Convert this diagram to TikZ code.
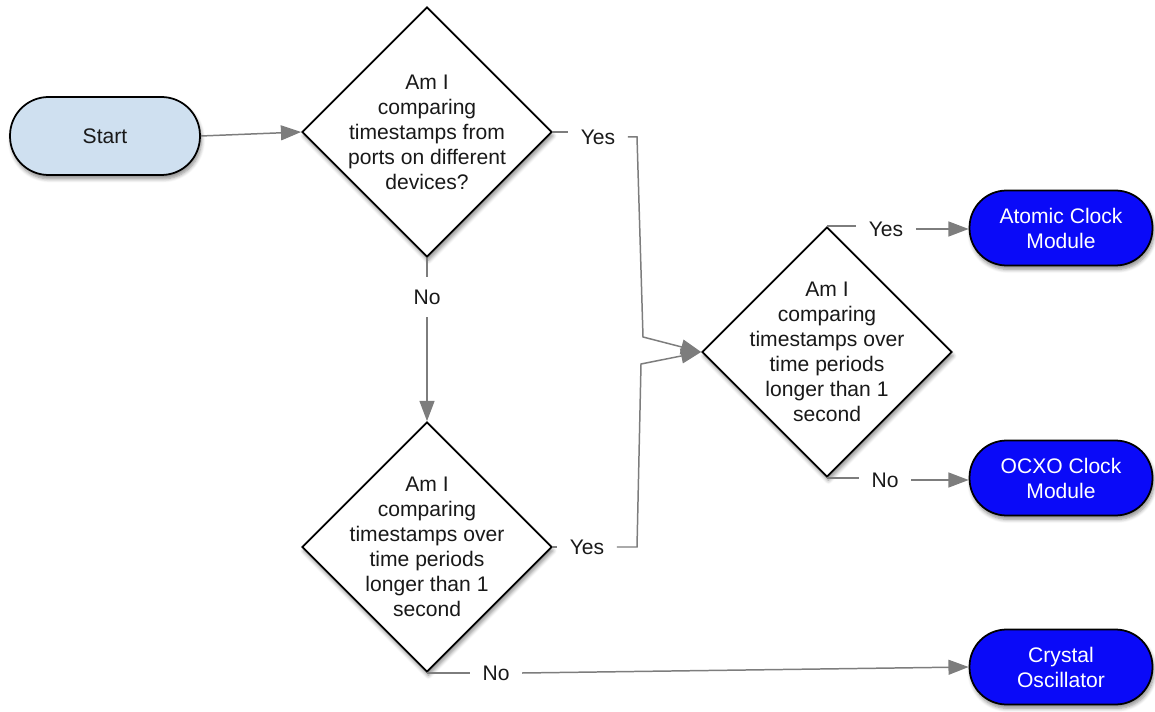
\documentclass[tikz,border=0pt]{standalone}
\usepackage{fontspec}
\setmainfont{Liberation Sans}
\usetikzlibrary{shapes.geometric,arrows.meta,shadows.blur}
\definecolor{startfill}{RGB}{207,224,240}
\definecolor{clockblue}{RGB}{10,10,248}
\definecolor{conncol}{RGB}{125,125,125}
\definecolor{txtcol}{RGB}{25,25,25}
\begin{document}
\begin{tikzpicture}[x=0.02cm,y=-0.02cm,
  font=\fontsize{12}{14.2}\selectfont, text=txtcol,
  softshadow/.style={blur shadow={shadow xshift=0.8pt, shadow yshift=-2.2pt, shadow blur steps=6, shadow opacity=45}},
  termbox/.style={draw=black, line width=1pt, rounded corners=0.74cm, minimum height=1.5cm, minimum width=3.66cm, align=center, softshadow},
  startbox/.style={termbox, fill=startfill, minimum width=3.8cm, minimum height=1.56cm, rounded corners=0.77cm},
  endbox/.style={termbox, fill=clockblue, text=white},
  dia/.style={diamond, draw=black, line width=1pt, fill=white, minimum width=5cm, minimum height=5cm, inner sep=0pt, softshadow},
  diatext/.style={align=center, inner sep=0pt},
  elab/.style={inner sep=7pt},
  conn/.style={draw=conncol, line width=0.85pt},
  arr/.style={conn, -{Triangle[length=11.5pt,width=8.5pt]}}
]
\useasboundingbox (0,0) rectangle (1155,712);

% nodes
\node[startbox] (start) at (105,136) {Start};
\node[dia] (d1) at (427,132) {};
\node[diatext] at (d1.center) {Am I\\comparing\\timestamps from\\ports on different\\devices?};
\node[dia] (d2) at (827,352) {};
\node[diatext] at (d2.center) {Am I\\comparing\\timestamps over\\time periods\\longer than 1\\second};
\node[dia] (d3) at (427,547) {};
\node[diatext] at (d3.center) {Am I\\comparing\\timestamps over\\time periods\\longer than 1\\second};

\node[endbox] (atomic) at (1061,228) {Atomic Clock\\Module};
\node[endbox] (ocxo) at (1061,478) {OCXO Clock\\Module};
\node[endbox] (crystal) at (1061,667) {Crystal\\Oscillator};

% edge labels
\node[elab] (yes1) at (598,137) {Yes};
\node[elab] (no1) at (427,297) {No};
\node[elab] (yes2) at (587,547) {Yes};
\node[elab] (yes3) at (886,229) {Yes};
\node[elab] (no2) at (885,480) {No};
\node[elab] (no3) at (496,673) {No};

% bend points
\coordinate (c1) at (637,137);
\coordinate (c2) at (643,337);
\coordinate (c3) at (637,547);
\coordinate (c4) at (641,364);

% connectors
\draw[arr] (start.east) -- (d1.west);
\draw[conn] (d1.east) -- (d1.east -| yes1.west);
\draw[arr] (yes1.east) -- (c1) -- (c2) -- (d2.west);
\draw[conn] (d1.south) -- (no1.north);
\draw[arr] (no1.south) -- (d3.north);
\draw[conn] (d3.east) -- (d3.east -| yes2.west);
\draw[arr] (yes2.east) -- (c3) -- (c4) -- (d2.west);
\draw[conn] (d2.north) -- (d2.north -| yes3.west);
\draw[arr] (yes3.east) -- (yes3.east -| atomic.west);
\draw[conn] (d2.south) -- (d2.south -| no2.west);
\draw[arr] (no2.east) -- (no2.east -| ocxo.west);
\draw[conn] (d3.south) -- (d3.south -| no3.west);
\draw[arr] (no3.east) -- (crystal.west);
\end{tikzpicture}
\end{document}
